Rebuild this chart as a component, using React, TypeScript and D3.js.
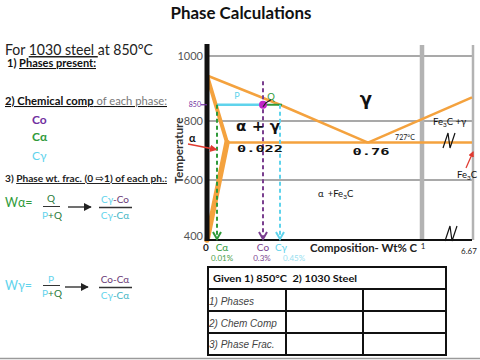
import React from "react";
import * as d3 from "d3";

// ---------- data ----------
const TEMP_TICKS = [1000, 800, 600, 400];
const TEMP_GRID = [1000, 800, 600];
const COMP_BREAKS = [1, 6.67]; // gray vertical guide lines
const COMP_TICK_LABELS = [
  { c: 1, label: "1" },
  { c: 6.67, label: "6.67" },
];
// phase boundaries [wt% C, °C] (schematic diagram)
const A3_LINE: [number, number][] = [[0, 940], [0.45, 850], [0.76, 727]];
const ACM_LINE: [number, number][] = [[0.76, 727], [6.67, 873]];
const ALPHA_UPPER: [number, number][] = [[0, 940], [0.022, 727]];
const ALPHA_LOWER: [number, number][] = [[0.022, 727], [0, 400]];
const EUTECTOID_LINE: [number, number][] = [[0.022, 727], [6.67, 727]];
const GIVEN_T = 850;
const C_ALPHA = 0.01;
const C_O = 0.3;
const C_GAMMA = 0.45;
const COMP_MARKERS = [
  { name: "Cα", c: C_ALPHA, pct: "0.01%", top: GIVEN_T },
  { name: "Co", c: C_O, pct: "0.3%", top: 922 },
  { name: "Cγ", c: C_GAMMA, pct: "0.45%", top: GIVEN_T },
];
const TABLE_HEADER = "Given 1) 850°C\u00a0 2) 1030 Steel";
const TABLE_ROWS = ["1) Phases", "2) Chem Comp", "3) Phase Frac."];

// ---------- style ----------
const SANS = "Lato, 'DejaVu Sans', sans-serif";
const ORANGE = "#f4a23e";
const GRAY = "#a9a9a9";
const PURPLE = "#7030a0";
const GREEN = "#2f9a3a";
const CYAN = "#5fd3ec";
const TEAL = "#45b6c6";
const DPURPLE = "#6a3b78";
const RED = "#e03a30";
const MARKER_STYLE: Record<string, { color: string; pctColor: string; nameDx: number; pctDx: number }> = {
  "Cα": { color: "#2f9a3a", pctColor: "#4aa04a", nameDx: 5, pctDx: 5 },
  "Co": { color: "#7a3f8f", pctColor: "#7a3f8f", nameDx: 0, pctDx: -1 },
  "Cγ": { color: "#5fd3ec", pctColor: "#98e0f0", nameDx: 1, pctDx: 14 },
};

const x = d3
  .scaleLinear()
  .domain([0, 0.01, 0.022, 0.3, 0.45, 0.76, 1, 6.67])
  .range([207, 217, 227, 263, 280, 368, 421, 472]);
const y = d3.scaleLinear().domain([400, 600, 800, 1000]).range([240, 180, 121, 56]);
const line = d3
  .line<[number, number]>()
  .x((d) => x(d[0]))
  .y((d) => y(d[1]));

const PLOT_TOP = 45;
const PLOT_BOTTOM = y(400);

const zig = (cx: number, cy: number) =>
  `M${cx - 6},${cy + 7}L${cx - 1},${cy - 8}L${cx + 1},${cy + 7}L${cx + 6},${cy - 8}`;

export default function App() {
  const yG = y(GIVEN_T);
  return (
    <svg
      width={480}
      height={360}
      style={{ position: "absolute", left: 0, top: 0, background: "#fff" }}
      fontFamily={SANS}
    >
      <defs>
        <marker id="redHead" viewBox="0 0 10 10" refX="8" refY="5" markerWidth="5" markerHeight="5" orient="auto">
          <path d="M0,0L10,5L0,10z" fill={RED} />
        </marker>
        <marker id="blkHead" viewBox="0 0 10 10" refX="9" refY="5" markerWidth="6" markerHeight="6" orient="auto">
          <path d="M0,0L10,5L0,10z" fill="#222" />
        </marker>
      </defs>
      <rect x={0} y={0} width={480} height={360} fill="#fff" />

      {/* Title */}
      <text x={241} y={19} textAnchor="middle" fontWeight="bold" fontSize={17} fill="#111" textLength={141} lengthAdjust="spacingAndGlyphs">
        Phase Calculations
      </text>

      {/* Left column text */}
      <text x={5} y={55} fontSize={15} fill="#222" textLength={148} lengthAdjust="spacingAndGlyphs">
        For <tspan style={{ textDecoration: "underline" }}>1030 steel </tspan>at 850°C
      </text>
      <text x={7} y={67} fontSize={10.5} fontWeight="bold" fill="#111" textLength={89} lengthAdjust="spacingAndGlyphs">
        1) <tspan style={{ textDecoration: "underline" }}>Phases present:</tspan>
      </text>
      <text x={5} y={105} fontSize={10.5} fill="#111" textLength={162} lengthAdjust="spacingAndGlyphs" style={{ textDecoration: "underline" }}>
        <tspan fontWeight="bold">2) Chemical comp</tspan>
        <tspan fill="#777"> of each phase:</tspan>
      </text>
      <text x={32} y={124} fontSize={12} fontWeight="bold" fill={PURPLE}>Co</text>
      <text x={32} y={141} fontSize={12} fontWeight="bold" fill={GREEN}>Cα</text>
      <text x={32} y={160} fontSize={12} fill={CYAN}>Cγ</text>
      <text x={5} y={182} fontSize={10} fontWeight="bold" fill="#222" textLength={162} lengthAdjust="spacingAndGlyphs">
        3) <tspan style={{ textDecoration: "underline" }}>Phase wt. frac. (0 ⇨1) of each ph.:</tspan>
      </text>

      {/* W alpha */}
      <text x={5} y={207} fontSize={12.5} fill={GREEN}>Wα=</text>
      <text x={51} y={202} fontSize={10} textAnchor="middle" fill="#2a7a3a">Q</text>
      <line x1={43} x2={60} y1={206.5} y2={206.5} stroke="#333" strokeWidth={1} />
      <text x={52} y={219} fontSize={10} textAnchor="middle">
        <tspan fill={CYAN}>P</tspan>
        <tspan fill="#2a7a3a">+Q</tspan>
      </text>
      <line x1={68} x2={91} y1={207} y2={207} stroke="#222" strokeWidth={1.3} markerEnd="url(#blkHead)" />
      <text x={115} y={203} fontSize={10} textAnchor="middle">
        <tspan fill={CYAN}>Cγ</tspan>
        <tspan fill={DPURPLE}>-Co</tspan>
      </text>
      <line x1={99} x2={132} y1={207.5} y2={207.5} stroke="#333" strokeWidth={1.3} />
      <text x={115} y={219} fontSize={10} textAnchor="middle">
        <tspan fill={CYAN}>Cγ</tspan>
        <tspan fill={TEAL}>-Cα</tspan>
      </text>

      {/* W gamma */}
      <text x={5} y={290} fontSize={12.5} fill={CYAN}>Wγ=</text>
      <text x={51} y={283} fontSize={10} textAnchor="middle" fill={CYAN}>P</text>
      <line x1={43} x2={60} y1={285.5} y2={285.5} stroke="#333" strokeWidth={1} />
      <text x={52} y={297} fontSize={10} textAnchor="middle">
        <tspan fill={CYAN}>P</tspan>
        <tspan fill="#2a7a3a">+Q</tspan>
      </text>
      <line x1={65} x2={88} y1={287} y2={287} stroke="#222" strokeWidth={1.3} markerEnd="url(#blkHead)" />
      <text x={115} y={283} fontSize={10} textAnchor="middle" fill={DPURPLE}>Co-Cα</text>
      <line x1={99} x2={132} y1={287.5} y2={287.5} stroke="#333" strokeWidth={1.3} />
      <text x={115} y={299} fontSize={10} textAnchor="middle">
        <tspan fill={CYAN}>Cγ</tspan>
        <tspan fill={TEAL}>-Cα</tspan>
      </text>

      {/* ---------- diagram ---------- */}
      {TEMP_GRID.map((t) => (
        <line key={t} x1={x(0)} x2={x(6.67)} y1={y(t)} y2={y(t)} stroke={GRAY} strokeWidth={2} />
      ))}
      {COMP_BREAKS.map((c, i) => (
        <line key={c} x1={x(c) + 1} x2={x(c) + 1} y1={PLOT_TOP} y2={PLOT_BOTTOM} stroke="#b3b3b3" strokeWidth={i === 0 ? 4.5 : 2.5} />
      ))}

      {/* phase boundaries */}
      <path d={line(EUTECTOID_LINE) || ""} fill="none" stroke={ORANGE} strokeWidth={2.5} />
      <path d={line(A3_LINE) || ""} fill="none" stroke={ORANGE} strokeWidth={2.5} strokeLinejoin="round" />
      <path d={line(ACM_LINE) || ""} fill="none" stroke={ORANGE} strokeWidth={2.5} />
      <path d={line(ALPHA_UPPER) || ""} fill="none" stroke={ORANGE} strokeWidth={4} strokeLinecap="round" />
      <path d={line(ALPHA_LOWER) || ""} fill="none" stroke={ORANGE} strokeWidth={5.5} strokeLinecap="round" />

      {/* axes */}
      <line x1={x(0)} x2={x(6.67)} y1={PLOT_BOTTOM} y2={PLOT_BOTTOM} stroke="#111" strokeWidth={2} />
      <line x1={x(0)} x2={x(0)} y1={PLOT_TOP - 1} y2={PLOT_BOTTOM + 1} stroke="#111" strokeWidth={5} />
      {TEMP_TICKS.map((t) => (
        <text key={t} x={203} y={t === 400 ? y(t) - 4 : y(t)} dy="0.35em" textAnchor="end" fontSize={11} fill="#555">
          {t}
        </text>
      ))}
      <text transform={`translate(183,${y(700)}) rotate(-90)`} textAnchor="middle" fontSize={11} fontWeight="bold" fill="#333" textLength={66} lengthAdjust="spacingAndGlyphs">
        Temperature
      </text>
      <text x={201} y={yG} dy="0.35em" textAnchor="end" fontSize={7} fill={PURPLE}>
        {GIVEN_T}
      </text>
      <line x1={201} x2={207} y1={yG} y2={yG} stroke={PURPLE} strokeWidth={1.2} />

      {/* tie line at 850 */}
      <line x1={x(C_ALPHA)} x2={x(C_O)} y1={yG} y2={yG} stroke={CYAN} strokeWidth={2.5} />
      <line x1={x(C_O)} x2={x(C_GAMMA) + 2} y1={yG} y2={yG} stroke={GREEN} strokeWidth={2} />
      <text x={237} y={99} fontSize={9} textAnchor="middle" fill={CYAN}>P</text>
      <text x={271} y={100} fontSize={9.5} textAnchor="middle" fill={GREEN}>Q</text>

      {/* dashed composition lines */}
      {COMP_MARKERS.map((m) => {
        const s = MARKER_STYLE[m.name];
        return (
          <g key={m.name}>
            <line x1={x(m.c)} x2={x(m.c)} y1={y(m.top)} y2={PLOT_BOTTOM - 2} stroke={s.color} strokeWidth={2} strokeDasharray="4,3" />
            <path d={`M${x(m.c) - 4},${PLOT_BOTTOM - 8}L${x(m.c)},${PLOT_BOTTOM - 1}L${x(m.c) + 4},${PLOT_BOTTOM - 8}`} fill="none" stroke={s.color} strokeWidth={2} />
            <text x={x(m.c) + s.nameDx} y={251} fontSize={10} textAnchor="middle" fill={s.color}>{m.name}</text>
            <text x={x(m.c) + s.pctDx} y={261} fontSize={8} textAnchor="middle" fill={s.pctColor}>{m.pct}</text>
          </g>
        );
      })}
      <circle cx={x(C_O)} cy={yG} r={4} fill="#c026c8" />
      <path d={`M${x(C_O)},${yG + 2}L${x(C_O) + 3},${yG - 2}L${x(C_O) + 8},${yG - 5}`} fill="none" stroke="#222" strokeWidth={1.2} />

      {/* labels inside diagram */}
      <text x={258} y={131} textAnchor="middle" fontSize={14} fontWeight="bold" fill="#111" fontFamily="'DejaVu Sans', sans-serif" textLength={44} lengthAdjust="spacingAndGlyphs">
        α + γ
      </text>
      <text x={260} y={152} textAnchor="middle" fontSize={9} fontWeight="bold" fill="#111" fontFamily="'DejaVu Sans Mono', monospace" textLength={46} lengthAdjust="spacingAndGlyphs">
        0.022
      </text>
      <text x={x(0.76) + 3} y={155} textAnchor="middle" fontSize={9} fontWeight="bold" fill="#111" fontFamily="'DejaVu Sans Mono', monospace" textLength={37} lengthAdjust="spacingAndGlyphs">
        0.76
      </text>
      <text x={405} y={140} textAnchor="middle" fontSize={7} fill="#222">727°C</text>
      <text x={366} y={105} textAnchor="middle" fontSize={18} fontWeight="bold" fill="#111" fontFamily="'DejaVu Sans', sans-serif">
        γ
      </text>
      <text x={433} y={125} fontSize={9.5} fill="#111">
        Fe<tspan fontSize={6.5} dy={2}>3</tspan><tspan dy={-2}>C +γ</tspan>
      </text>
      <path d={zig(449, 141)} fill="none" stroke="#111" strokeWidth={1.2} />
      <text x={457} y={178} fontSize={9.5} fill="#111">
        Fe<tspan fontSize={6.5} dy={2}>3</tspan><tspan dy={-2}>C</tspan>
      </text>
      <line x1={466} x2={473} y1={168} y2={152} stroke={RED} strokeWidth={1.2} markerEnd="url(#redHead)" />
      <text x={318} y={197} fontSize={9.5} fill="#111">
        α<tspan dx={4}>+Fe</tspan><tspan fontSize={6.5} dy={2}>3</tspan><tspan dy={-2}>C</tspan>
      </text>
      <text x={189} y={142} fontSize={11} fontWeight="bold" fill="#111">α</text>
      <line x1={188} x2={216} y1={144} y2={149.5} stroke={RED} strokeWidth={1.5} markerEnd="url(#redHead)" />

      {/* x axis labels */}
      <text x={x(0) - 1} y={251} fontSize={10} fontWeight="bold" textAnchor="middle" fill="#222">0</text>
      {COMP_TICK_LABELS.map((d) => (
        <text key={d.label} x={d.c === 1 ? x(d.c) + 2 : x(d.c) - 3} y={d.c === 1 ? 249 : 254} fontSize={8} textAnchor="middle" fill="#222">
          {d.label}
        </text>
      ))}
      <path d={zig(451, 234)} fill="none" stroke="#111" strokeWidth={1.2} />
      <text x={310} y={252} fontSize={11} fontWeight="bold" fill="#222" textLength={107} lengthAdjust="spacingAndGlyphs">
        Composition- Wt% C
      </text>

      {/* ---------- table ---------- */}
      <g>
        <rect x={208} y={267} width={238} height={88} fill="none" stroke="#111" strokeWidth={2} />
        <line x1={208} x2={446} y1={289} y2={289} stroke="#111" strokeWidth={2} />
        {TABLE_ROWS.map((r, i) => (
          <g key={r}>
            {i > 0 && <line x1={208} x2={446} y1={289 + i * 22} y2={289 + i * 22} stroke="#111" strokeWidth={2} />}
            <text x={209} y={305 + i * 21.5} fontSize={10} fontStyle="italic" fill="#444" fontFamily="'Liberation Sans', sans-serif">
              {r}
            </text>
          </g>
        ))}
        <line x1={286} x2={286} y1={289} y2={355} stroke="#111" strokeWidth={2} />
        <line x1={363} x2={363} y1={289} y2={355} stroke="#111" strokeWidth={2} />
        <text x={213} y={282} fontSize={10} fontWeight="bold" fill="#111" textLength={144} lengthAdjust="spacingAndGlyphs">
          {TABLE_HEADER}
        </text>
      </g>
      <line x1={0} x2={480} y1={358.5} y2={358.5} stroke="#9a9a9a" strokeWidth={1.5} />
    </svg>
  );
}
